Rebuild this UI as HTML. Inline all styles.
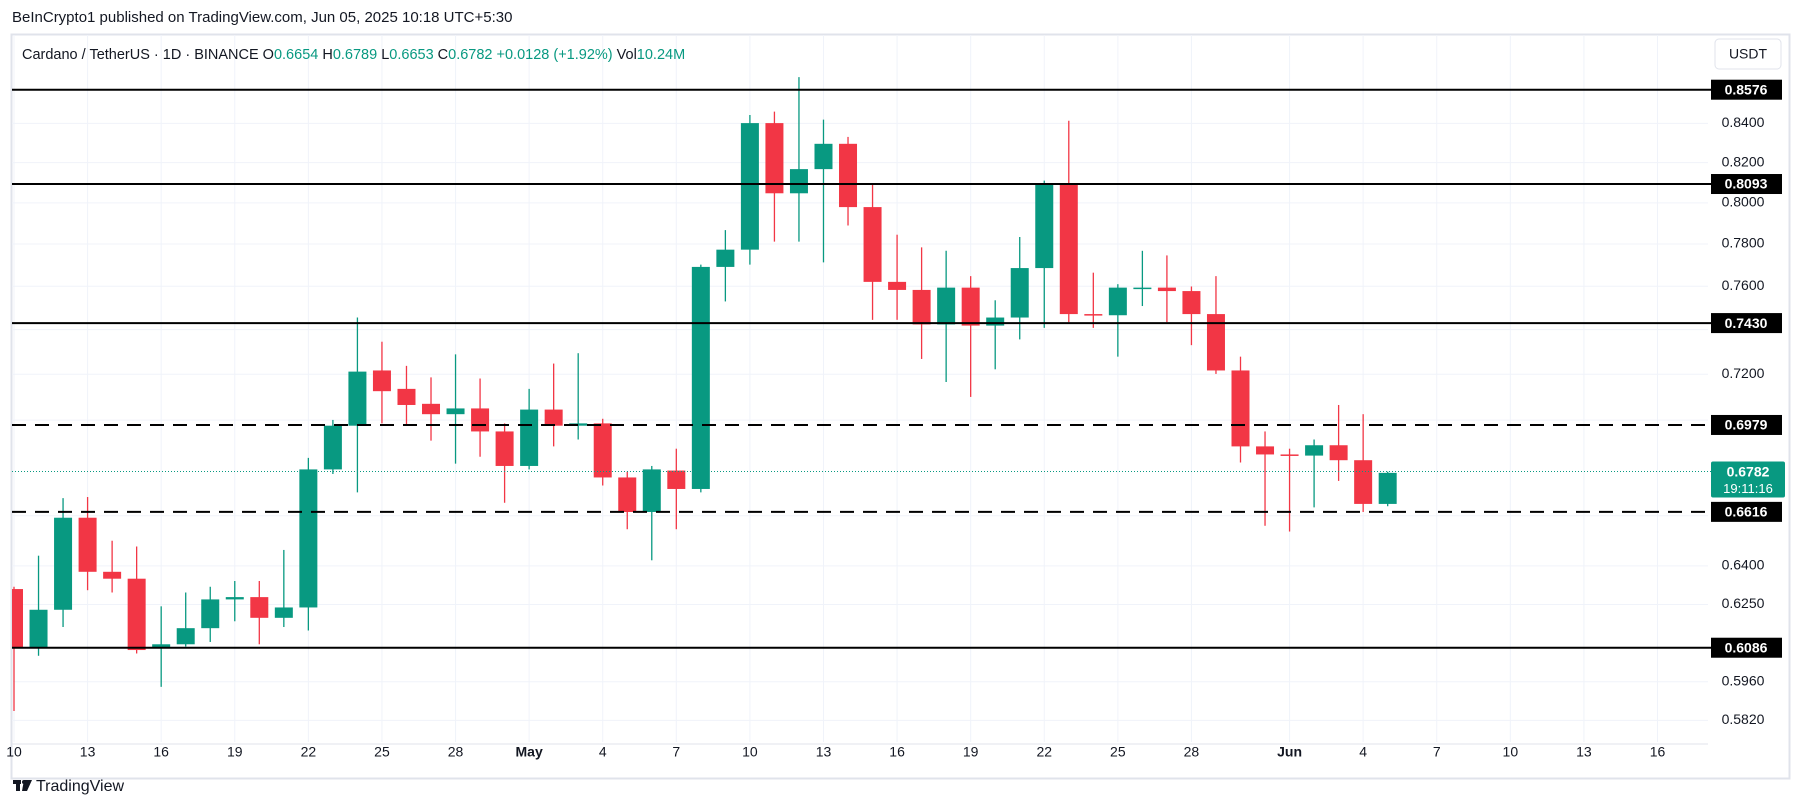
<!DOCTYPE html>
<html><head><meta charset="utf-8"><style>
html,body{margin:0;padding:0;background:#fff;width:1804px;height:809px;overflow:hidden;font-family:"Liberation Sans",sans-serif}
</style></head><body>
<svg id="s" width="1804" height="809" xmlns="http://www.w3.org/2000/svg" style="position:absolute;left:0;top:0"></svg>
<script>
const S=1.1505;
const svg=document.getElementById('s');
let h='<defs><clipPath id="cp"><rect x="12" y="35" width="1696" height="708"/></clipPath></defs>';
const G='#089981',R='#f23645';
function yp(p){return 89.7+(Math.log(0.8576)-Math.log(p))*1627;}
function xd(d){return 14+24.53*d;}
h+=`<rect x="11.5" y="34.5" width="1778" height="744" fill="#fff" stroke="#e0e3eb" stroke-width="2"/>`;
h+=`<line x1="11.5" y1="744" x2="1708" y2="744" stroke="#e0e3eb" stroke-width="1"/>`;
const labs=[[0,'10'],[3,'13'],[6,'16'],[9,'19'],[12,'22'],[15,'25'],[18,'28'],[21,'May'],[24,'4'],[27,'7'],[30,'10'],[33,'13'],[36,'16'],[39,'19'],[42,'22'],[45,'25'],[48,'28'],[52,'Jun'],[55,'4'],[58,'7'],[61,'10'],[64,'13'],[67,'16']];
labs.forEach(([d,t])=>{const x=xd(d);h+=`<line x1="${x}" y1="35" x2="${x}" y2="742" stroke="#f0f3fa"/>`;
h+=`<text x="${x}" y="753" font-size="14" fill="#131722" text-anchor="middle" dominant-baseline="middle" ${(t=='May'||t=='Jun')?'font-weight="bold"':''}>${t}</text>`;});
const ticks=[0.84,0.82,0.80,0.78,0.76,0.72,0.64,0.625,0.596,0.582,0.74,0.70,0.66];
ticks.forEach(p=>{const y=yp(p);h+=`<line x1="12" y1="${y}" x2="1708" y2="${y}" stroke="#f0f3fa"/>`;
if([0.84,0.82,0.80,0.78,0.76,0.72,0.64,0.625,0.596,0.582].includes(p))h+=`<text x="1743" y="${y}" font-size="14" fill="#131722" text-anchor="middle" dominant-baseline="middle">${p.toFixed(4)}</text>`;});
const C=[[512,510,618,563],[563,483,570,530],[530,433,545,450],[450,432,513,497],[497,470,515,503],[503,475,568,565],[563,527,597,560],[560,515,562,546],[546,510,558,521],[521,505,540,519],[519,505,560,537],[537,478,545,528],[528,398,548,408],[408,365,412,370],[370,276,428,323],[322,297,368,340],[338,318,370,352],[351,328,383,360],[360,308,403,355],[355,329,397,375],[375,368,437,405],[405,338,408,356],[356,316,388,370],[370,307,382,368],[368,364,422,415],[415,410,460,445],[445,405,487,408],[409,390,460,425],[425,230,428,232],[232,200,262,217],[217,100,230,107],[107,97,210,168],[168,67,210,147],[147,104,228,125],[125,119,196,180],[180,160,278,245],[245,204,278,252],[252,215,312,282],[282,218,332,250],[250,240,345,283],[283,261,321,276],[276,206,295,233],[233,157,285,160],[160,105,280,273],[273,237,285,274],[274,247,310,250],[251,218,266,250],[250,222,280,253],[253,249,300,273],[273,240,325,322],[322,310,402,388],[388,375,457,395],[395,390,462,396],[396,382,441,387],[387,352,418,400],[400,360,445,438],[438,410,440,411]];
h+='<g clip-path="url(#cp)">';
C.forEach((c,d)=>{const [o,hi,lo,cl]=c.map(v=>v*S);const col=cl<=o&&!(d==52)?G:R;const x=xd(d);
h+=`<line x1="${x}" y1="${hi}" x2="${x}" y2="${lo}" stroke="${col}" stroke-width="1.3"/>`;
const t=Math.min(o,cl),b=Math.max(o,cl);h+=`<rect x="${x-9}" y="${t}" width="18" height="${Math.max(b-t,1.5)}" fill="${col}"/>`;});
h+='</g>';
[[0.8576,0],[0.8093,0],[0.7430,0],[0.6979,1],[0.6616,1],[0.6086,0]].forEach(([p,dash])=>{const y=yp(p);
h+=`<line x1="12" y1="${y}" x2="1711" y2="${y}" stroke="#000" stroke-width="2" ${dash?'stroke-dasharray="14 9"':''}/>`;
h+=`<rect x="1711" y="${y-10}" width="71" height="20" fill="#000"/><text x="1746" y="${y+1}" font-size="14" font-weight="bold" fill="#fff" text-anchor="middle" dominant-baseline="middle">${p.toFixed(4)}</text>`;});
const yc=yp(0.6782);
h+=`<line x1="12" y1="${yc}" x2="1711" y2="${yc}" stroke="#089981" stroke-dasharray="1 2"/>`;
h+=`<rect x="1711" y="${yc-10}" width="74" height="36" rx="2" fill="#089981"/><text x="1748" y="${yc+1}" font-size="14" font-weight="bold" fill="#fff" text-anchor="middle" dominant-baseline="middle">0.6782</text><text x="1748" y="${yc+18}" font-size="13" fill="#fff" text-anchor="middle" dominant-baseline="middle">19:11:16</text>`;
h+=`<rect x="1715" y="39" width="66" height="30" rx="4" fill="#fff" stroke="#e0e3eb"/><text x="1748" y="55" font-size="14" fill="#131722" text-anchor="middle" dominant-baseline="middle">USDT</text>`;
h+=`<text x="12" y="22" font-size="15" fill="#131722">BeInCrypto1 published on TradingView.com, Jun 05, 2025 10:18 UTC+5:30</text>`;
h+=`<text x="22" y="59" font-size="14.5" fill="#131722">Cardano / TetherUS · 1D · BINANCE  O<tspan fill="#089981">0.6654</tspan>  H<tspan fill="#089981">0.6789</tspan>  L<tspan fill="#089981">0.6653</tspan>  C<tspan fill="#089981">0.6782  +0.0128 (+1.92%)</tspan>  Vol<tspan fill="#089981">10.24M</tspan></text>`;
h+=`<rect x="13" y="780" width="8" height="4" fill="#131722"/><rect x="16" y="780" width="4" height="11" fill="#131722"/><path d="M24 780 L32 780 L27 791 L22 791 Z" fill="#131722"/><circle cx="24" cy="782" r="2" fill="#131722"/>`;
h+=`<text x="36" y="791" font-size="16" fill="#131722">TradingView</text>`;
svg.innerHTML=h;
</script>
</body></html>
